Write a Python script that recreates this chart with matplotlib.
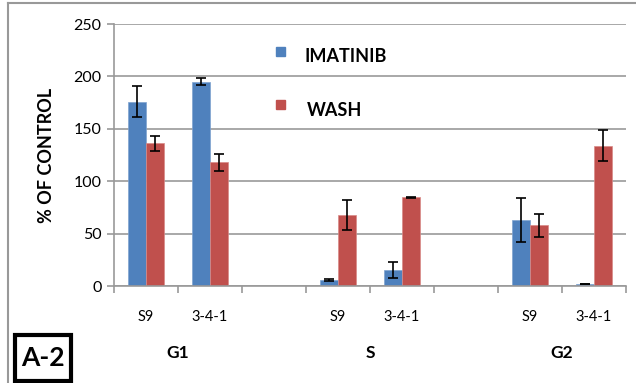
import numpy as np
import matplotlib.pyplot as plt
from matplotlib.patches import Rectangle
from matplotlib.lines import Line2D

plt.rcParams['font.family'] = ['Lato', 'DejaVu Sans']

# data
slot_labels = ['S9', '3-4-1', '', 'S9', '3-4-1', '', 'S9', '3-4-1']
groups = ['G1', 'S', 'G2']
imatinib = [176, 195, np.nan, 6, 15, np.nan, 63, 1.5]
imatinib_err = [15, 3.5, np.nan, 0.8, 7.5, np.nan, 21, 0]
wash = [136, 118, np.nan, 68, 84.5, np.nan, 58, 134]
wash_err = [7.5, 8, np.nan, 14.5, 0.5, np.nan, 11, 14.5]

blue = '#4f81bd'
red = '#c0504d'

fig = plt.figure(figsize=(6.36, 3.83), dpi=100)
ax = fig.add_axes([114/636, 1-286/383, 512/636, 262/383])

x = np.arange(len(slot_labels))
w = 0.28
ax.bar(x - w/2, imatinib, w, color=blue, edgecolor='#7fa3d0', linewidth=0.5,
       yerr=imatinib_err, capsize=3.5, error_kw=dict(elinewidth=1.2, capthick=1.2, ecolor='black'))
ax.bar(x + w/2, wash, w, color=red, edgecolor='#d88a88', linewidth=0.5,
       yerr=wash_err, capsize=3.5, error_kw=dict(elinewidth=1.2, capthick=1.2, ecolor='black'))

ax.set_xlim(-0.5, len(slot_labels) - 0.5)
ax.set_ylim(0, 250)
ax.set_yticks(np.arange(0, 251, 50))
ax.yaxis.grid(True, color='#999999', linewidth=1.2)
ax.set_axisbelow(True)
for s in ['top', 'right']:
    ax.spines[s].set_visible(False)
for s in ['left', 'bottom']:
    ax.spines[s].set_color('#999999')
    ax.spines[s].set_linewidth(1.2)

ax.set_xticks(np.arange(-0.5, len(slot_labels), 1))
ax.set_xticklabels([])
ax.set_xticks(x, minor=True)
ax.set_xticklabels(slot_labels, minor=True, fontsize=10.5)
ax.tick_params(axis='x', which='major', length=5, color='#999999', width=1.2)
ax.tick_params(axis='x', which='minor', length=0, pad=17)
ax.tick_params(axis='y', length=5, color='#999999', width=1.2, labelsize=11.5, pad=4)

for i, g in enumerate(groups):
    ax.text(i*3 + 0.5, -64, g, ha='center', va='center', fontsize=12.5, fontweight='bold',
            transform=ax.transData, clip_on=False)

ax.set_ylabel('% OF CONTROL', fontsize=13, fontweight='bold', labelpad=13)

# legend
fig.patches.append(Rectangle((276/636, 1-56/383), 9/636, 9/383, transform=fig.transFigure, color=blue))
fig.patches.append(Rectangle((276/636, 1-109/383), 9/636, 9/383, transform=fig.transFigure, color=red))
fig.text(304/636, 1-57/383, 'IMATINIB', fontsize=13, fontweight='bold', va='center')
fig.text(307/636, 1-110/383, 'WASH', fontsize=13, fontweight='bold', va='center')

# outer frame
fig.lines.append(Line2D([8/636, 8/636], [0, 1-3/383], transform=fig.transFigure, color='#999999', lw=1.5))
fig.lines.append(Line2D([8/636, 1], [1-3/383, 1-3/383], transform=fig.transFigure, color='#999999', lw=1.5))

# panel tag
fig.patches.append(Rectangle((15/636, 2/383), 56/636, 46/383, transform=fig.transFigure,
                             facecolor='white', edgecolor='black', linewidth=3))
fig.text(43/636, 1-358/383, 'A-2', fontsize=19, fontweight='bold', ha='center', va='center')

fig.savefig('out.png', dpi=100)
